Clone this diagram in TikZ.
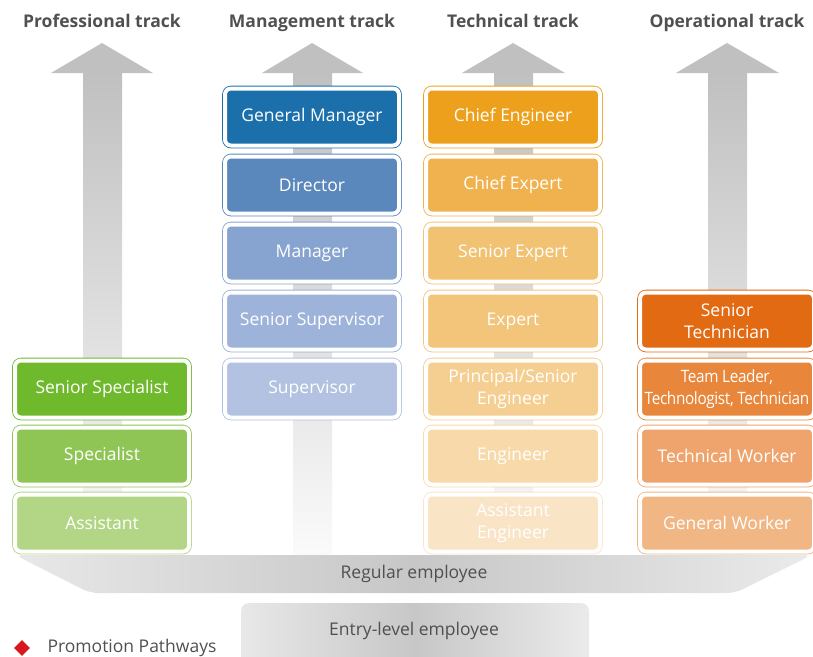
\documentclass[tikz,border=0pt]{standalone}
\usepackage{fontspec}
\setmainfont{Open Sans}
\usepackage{xcolor}
\usetikzlibrary{shapes.geometric}

\definecolor{headgray}{HTML}{505050}
\definecolor{arrowgray}{HTML}{BFC0BF}
\definecolor{legendred}{HTML}{D7191F}
% professional
\definecolor{pro1}{HTML}{6FB92C}
\definecolor{pro2}{HTML}{8FC555}
\definecolor{pro3}{HTML}{B2D685}
% management
\definecolor{man1}{HTML}{1B6FAB}
\definecolor{man2}{HTML}{5A88BC}
\definecolor{man3}{HTML}{87A3CF}
\definecolor{man4}{HTML}{9DB3D9}
\definecolor{man5}{HTML}{B2C2E0}
% technical
\definecolor{tec1}{HTML}{ECA01C}
\definecolor{tec2}{HTML}{F0B24E}
\definecolor{tec3}{HTML}{F2C273}
\definecolor{tec4}{HTML}{F3C57B}
\definecolor{tec5}{HTML}{F5CF91}
\definecolor{tec6}{HTML}{F7D9AA}
\definecolor{tec7}{HTML}{F9E4C6}
% operational
\definecolor{ope1}{HTML}{E16A12}
\definecolor{ope2}{HTML}{E8873B}
\definecolor{ope3}{HTML}{EEA46C}
\definecolor{ope4}{HTML}{F0B684}

\begin{document}
\begin{tikzpicture}[
  x=1pt, y=-1pt,
  font=\fontsize{17.5}{22}\selectfont,
  header/.style={font=\fontsize{17.5}{21}\selectfont\bfseries, text=headgray,
                 anchor=base},
  rank/.style={draw=#1, fill=#1, double=white, double distance=4pt,
               line width=0.8pt, rounded corners=6pt, minimum width=174pt,
               minimum height=57pt, inner sep=1pt, text=white, align=center},
  shaft/.style={top color=arrowgray, bottom color=white!93!arrowgray},
  base/.style={left color=black!9, right color=black!8, middle color=black!22},
]
\useasboundingbox (0,0) rectangle (813,656);

% track titles
\node[header] (hprof) at (102,27) {Professional track};
\node[header] (hman)  at (312,27) {Management track};
\node[header] (htech) at (513,27) {Technical track};
\node[header] (hop)   at (727,27) {Operational track};

% the four upward arrows
\fill[arrowgray] (51,73) -- (102,43) -- (153,73) -- cycle;
\fill[arrowgray] (262,73) -- (312,43) -- (363,73) -- cycle;
\fill[arrowgray] (462,73) -- (513,43) -- (565,73) -- cycle;
\fill[arrowgray] (676,73) -- (727,43) -- (779,73) -- cycle;
\shade[shaft] (83,72) rectangle (122,556);
\shade[shaft] (293,72) rectangle (332,556);
\shade[shaft] (494,72) rectangle (533,556);
\shade[shaft] (708,72) rectangle (747,556);

% professional
\node[rank=pro1] (sspec) at (102,389) {Senior Specialist};
\node[rank=pro2] (spec)  at (102,456) {Specialist};
\node[rank=pro3] (asst)  at (102,523) {Assistant};

% management
\node[rank=man1] (gm)    at (312,117) {General Manager};
\node[rank=man2] (dir)   at (312,185) {Director};
\node[rank=man3] (mgr)   at (312,253) {Manager};
\node[rank=man4] (ssup)  at (312,321) {Senior Supervisor};
\node[rank=man5] (sup)   at (312,389) {Supervisor};

% technical
\node[rank=tec1] (ceng)  at (513,117) {Chief Engineer};
\node[rank=tec2] (cexp)  at (513,185) {Chief Expert};
\node[rank=tec3] (sexp)  at (513,253) {Senior Expert};
\node[rank=tec4] (exp)   at (513,321) {Expert};
\node[rank=tec5] (peng)  at (513,389) {Principal/Senior\\Engineer};
\node[rank=tec6] (eng)   at (513,456) {Engineer};
\node[rank=tec7] (aeng)  at (513,523) {Assistant\\Engineer};

% operational
\node[rank=ope1] (stech) at (727,321) {Senior\\Technician};
\node[rank=ope2, inner sep=0pt,
      font=\fontsize{17}{22}\selectfont\addfontfeature{FakeStretch=0.9, LetterSpace=-2}]
  (lead) at (727,389) {Team Leader,\\Technologist, Technician};
\node[rank=ope3] (twork) at (727,456) {Technical Worker};
\node[rank=ope4] (gwork) at (727,523) {General Worker};

% common base
\shade[base, rounded corners=8pt] (15,555) -- (812,555)
  -- (735,593) -- (90,593) -- cycle;
\node[text=headgray] (reg) at (414,574) {Regular employee};

\shade[base, rounded corners=8pt] (241,603) rectangle (589,672);
\node[text=headgray] (entry) at (414,631) {Entry-level employee};

% legend
\node[diamond, fill=legendred, minimum size=16pt, inner sep=0pt] (key) at (22,648) {};
\node[anchor=west, text=headgray] (keytext) at (44,648) {Promotion Pathways};
\end{tikzpicture}
\end{document}
